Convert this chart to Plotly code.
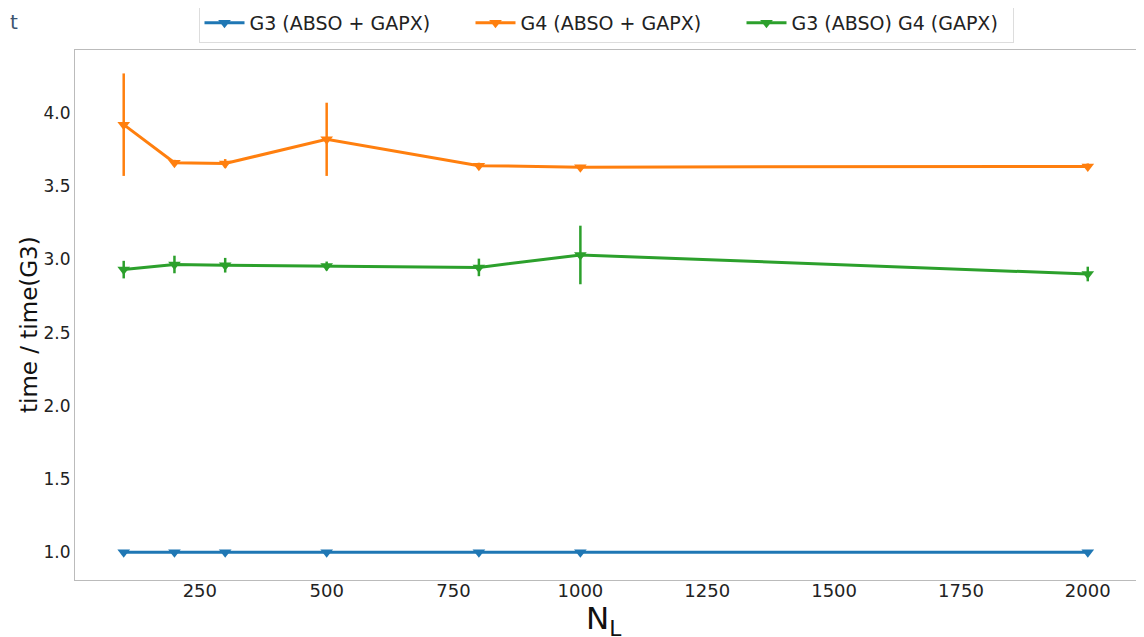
import plotly.graph_objects as go

x_vals = [100, 200, 300, 500, 800, 1000, 2000]

g3_abso_gapx = [1.0, 1.0, 1.0, 1.0, 1.0, 1.0, 1.0]
g3_abso_gapx_err = [0.0, 0.0, 0.0, 0.0, 0.0, 0.0, 0.0]

g4_abso_gapx = [3.92, 3.66, 3.655, 3.82, 3.64, 3.63, 3.635]
g4_abso_gapx_err = [0.35, 0.02, 0.03, 0.25, 0.02, 0.015, 0.02]

g3_abso_g4_gapx = [2.93, 2.965, 2.96, 2.955, 2.945, 3.03, 2.90]
g3_abso_g4_gapx_err = [0.06, 0.06, 0.05, 0.03, 0.06, 0.2, 0.05]

names = ["G3 (ABSO + GAPX)", "G4 (ABSO + GAPX)", "G3 (ABSO) G4 (GAPX)"]
colors = ["#1f77b4", "#ff7f0e", "#2ca02c"]
series = [g3_abso_gapx, g4_abso_gapx, g3_abso_g4_gapx]
errors = [g3_abso_gapx_err, g4_abso_gapx_err, g3_abso_g4_gapx_err]

# page has an 8px body margin; compensate so the plot area lands at 75..1137 x 50..580
OFF = 8
W, H = 1144 - OFF, 637 - OFF
L, R, T, B = 75 - OFF, 7, 50 - OFF, 57
PW, PH = W - L - R, H - T - B


def px_x(page_x):
    return (page_x - OFF - L) / PW


def px_y(page_y):
    return (H - B - (page_y - OFF)) / PH


fig = go.Figure()
for name, color, ys, es in zip(names, colors, series, errors):
    fig.add_trace(go.Scatter(
        x=x_vals, y=ys, name=name, mode="lines+markers",
        line=dict(color=color, width=3),
        marker=dict(symbol="triangle-down", size=11, color=color),
        error_y=dict(type="data", array=es, visible=True, color=color,
                     thickness=2.5, width=0),
    ))

# stray glyph at top-left
fig.add_annotation(text="t", xref="paper", yref="paper", x=px_x(OFF), y=px_y(OFF),
                   xanchor="left", yanchor="top", showarrow=False,
                   font=dict(family="DejaVu Sans", size=20, color="#3b5570"))

# y-axis title
fig.add_annotation(text="time / time(G3)", xref="paper", yref="paper",
                   x=px_x(29), y=px_y(325), textangle=-90,
                   xanchor="center", yanchor="middle", showarrow=False,
                   font=dict(family="DejaVu Sans", size=23, color="#111"))

# x-axis title
fig.add_annotation(text="N<sub>L</sub>", xref="paper", yref="paper",
                   x=px_x(603), y=px_y(598),
                   xanchor="center", yanchor="top", showarrow=False,
                   font=dict(family="DejaVu Sans", size=31, color="#111"))

fig.update_layout(
    width=W, height=H,
    margin=dict(l=L, r=R, t=T, b=B, autoexpand=False),
    paper_bgcolor="white", plot_bgcolor="white",
    font=dict(family="DejaVu Sans", size=16, color="#222"),
    legend=dict(orientation="h", x=0.5, xanchor="center", y=px_y(3), yanchor="top",
                bordercolor="#dddddd", borderwidth=1, bgcolor="white",
                font=dict(size=19, color="#222"), itemwidth=40,
                entrywidth=216, entrywidthmode="pixels"),
    xaxis=dict(range=[4, 2097], tickvals=[250, 500, 750, 1000, 1250, 1500, 1750, 2000],
               showgrid=False, zeroline=False, showline=True, linecolor="#bbbbbb",
               linewidth=1, mirror=True, ticks="", tickfont=dict(size=18, color="#222"),
               automargin=False, ticklabelstandoff=-6),
    yaxis=dict(range=[0.81, 4.43], tickvals=[1.0, 1.5, 2.0, 2.5, 3.0, 3.5, 4.0],
               ticktext=["1.0", "1.5", "2.0", "2.5", "3.0", "3.5", "4.0"],
               showgrid=False, zeroline=False, showline=True, linecolor="#bbbbbb",
               linewidth=1, mirror=True, ticks="", tickfont=dict(size=17, color="#222"),
               automargin=False),
)

fig.write_html("out.html")
